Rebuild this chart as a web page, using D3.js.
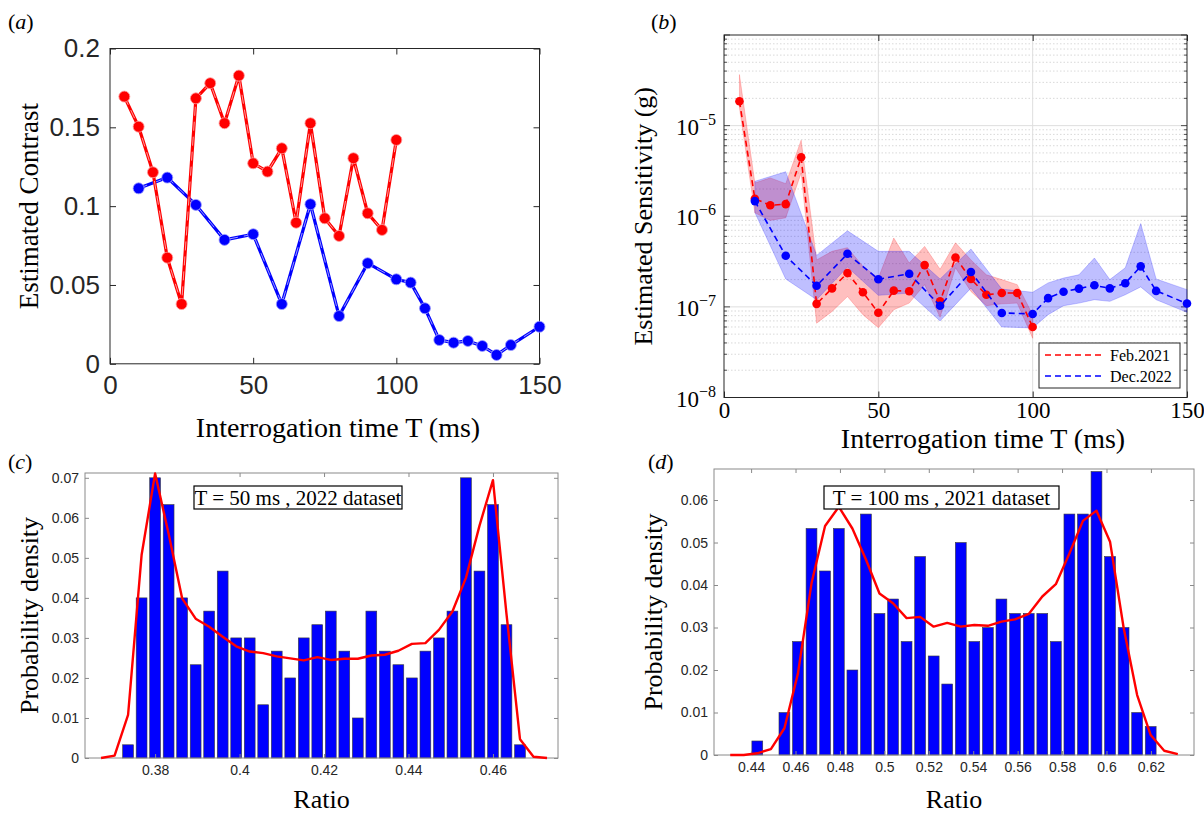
<!DOCTYPE html>
<html><head><meta charset="utf-8">
<script src="https://cdn.jsdelivr.net/npm/d3@7"></script>
<style>body{margin:0;background:#fff}</style>
</head><body>
<svg id="fig" width="1204" height="818"></svg>
<script>
// ---------- Panel (a) data ----------
const aXTicks = [0, 50, 100, 150];
const aYTicks = [0, 0.05, 0.1, 0.15, 0.2];
const aYLabels = ["0", "0.05", "0.1", "0.15", "0.2"];
const aRedT = [5,10,15,20,25,30,35,40,45,50,55,60,65,70,75,80,85,90,95,100];
const aRedC = [0.1695,0.1504,0.1215,0.0673,0.0379,0.1684,0.178,0.1526,0.1828,0.1272,0.1219,0.1367,0.0895,0.1526,0.0923,0.0811,0.1304,0.0955,0.0849,0.142];
const aBlueT = [10,20,30,40,50,60,70,80,90,100,105,110,115,120,125,130,135,140,150];
const aBlueC = [0.1113,0.1181,0.1008,0.0786,0.0822,0.0379,0.1012,0.0303,0.0638,0.0536,0.0515,0.0352,0.0151,0.0134,0.0145,0.0113,0.0056,0.0119,0.0235];

// ---------- Panel (b) data ----------
const bXTicks = [0, 50, 100, 150];
const bYDecades = [1e-8, 1e-7, 1e-6, 1e-5];
const bYExp = ["\u22128", "\u22127", "\u22126", "\u22125"];
const bRedT = [5,10,15,20,25,30,35,40,45,50,55,60,65,70,75,80,85,90,95,100];
const bRedS  = [1.86e-5,1.56e-6,1.32e-6,1.36e-6,4.47e-6,1.08e-7,1.6e-7,2.36e-7,1.45e-7,8.6e-8,1.51e-7,1.49e-7,2.89e-7,1.15e-7,3.5e-7,2.03e-7,1.36e-7,1.42e-7,1.42e-7,6.0e-8];
const bRedHi = [3.66e-5,2.33e-6,2.65e-6,2.29e-6,6.9e-6,3.3e-7,4.1e-7,4.5e-7,2.8e-7,2.08e-7,5.75e-7,3.05e-7,4.65e-7,2.6e-7,5.1e-7,3.3e-7,2.26e-7,2.0e-7,1.76e-7,8.2e-8];
const bRedLo = [1.58e-5,1.09e-6,9.0e-7,9.6e-7,3.0e-6,6.6e-8,8.9e-8,1.3e-7,8.2e-8,5.9e-8,9.3e-8,1.1e-7,1.76e-7,7.7e-8,2.7e-7,1.48e-7,1.03e-7,1.08e-7,1.1e-7,4.5e-8];
const bBlueT = [10,20,30,40,50,60,70,80,90,100,105,110,115,120,125,130,135,140,150];
const bBlueS  = [1.47e-6,3.66e-7,1.71e-7,3.85e-7,2.02e-7,2.32e-7,1.03e-7,2.43e-7,8.57e-8,8.36e-8,1.25e-7,1.47e-7,1.59e-7,1.73e-7,1.6e-7,1.82e-7,2.8e-7,1.5e-7,1.09e-7];
const bBlueHi = [2.43e-6,3.1e-6,3.7e-7,6.9e-7,4.1e-7,4.1e-7,2.03e-7,4.35e-7,1.57e-7,1.45e-7,1.84e-7,2.08e-7,2.26e-7,3.46e-7,2.0e-7,2.7e-7,8.3e-7,2.03e-7,1.55e-7];
const bBlueLo = [1.1e-6,2.03e-7,1.2e-7,2.75e-7,1.34e-7,1.42e-7,7.0e-8,1.61e-7,6.0e-8,5.85e-8,8.2e-8,1.03e-7,1.1e-7,1.2e-7,1.15e-7,1.36e-7,1.66e-7,1.2e-7,8.7e-8];
const bLegend = ["Feb.2021", "Dec.2022"];

// ---------- Panel (c) data ----------
const cXTicks = [0.38, 0.4, 0.42, 0.44, 0.46];
const cXLabels = ["0.38", "0.4", "0.42", "0.44", "0.46"];
const cYTicks = [0, 0.01, 0.02, 0.03, 0.04, 0.05, 0.06, 0.07];
const cYLabels = ["0", "0.01", "0.02", "0.03", "0.04", "0.05", "0.06", "0.07"];
const cBarX = [0.3736,0.3768,0.3800,0.3832,0.3864,0.3896,0.3928,0.3960,0.3992,0.4024,0.4056,0.4088,0.4120,0.4152,0.4184,0.4216,0.4248,0.4280,0.4312,0.4344,0.4376,0.4408,0.4440,0.4472,0.4504,0.4536,0.4568,0.4600,0.4632,0.4664];
const cBarP = [0.0033,0.0400,0.0700,0.0633,0.0400,0.0233,0.0367,0.0467,0.0300,0.0300,0.0133,0.0267,0.0200,0.0300,0.0333,0.0367,0.0267,0.0100,0.0367,0.0267,0.0233,0.0200,0.0267,0.0300,0.0367,0.0700,0.0467,0.0633,0.0333,0.0033];
const cFitX = [0.3672,0.3704,0.3736,0.3768,0.3800,0.3832,0.3864,0.3896,0.3928,0.3960,0.3992,0.4024,0.4056,0.4088,0.4120,0.4152,0.4184,0.4216,0.4248,0.4280,0.4312,0.4344,0.4376,0.4408,0.4440,0.4472,0.4504,0.4536,0.4568,0.4600,0.4632,0.4664,0.4696,0.4728];
const cFitP = [0,0.0006,0.0108,0.0507,0.0711,0.056,0.0399,0.0348,0.0328,0.0303,0.0279,0.0266,0.0262,0.0254,0.0249,0.0244,0.0252,0.0245,0.0248,0.0248,0.0256,0.0258,0.0268,0.0285,0.0287,0.032,0.0366,0.045,0.058,0.0694,0.036,0.0047,0.0003,0];
const cNote = "T = 50 ms , 2022 dataset";

// ---------- Panel (d) data ----------
const dXTicks = [0.44,0.46,0.48,0.5,0.52,0.54,0.56,0.58,0.6,0.62];
const dXLabels = ["0.44","0.46","0.48","0.5","0.52","0.54","0.56","0.58","0.6","0.62"];
const dYTicks = [0, 0.01, 0.02, 0.03, 0.04, 0.05, 0.06];
const dYLabels = ["0", "0.01", "0.02", "0.03", "0.04", "0.05", "0.06"];
const dBarX = [0.4428,0.4550,0.4611,0.4672,0.4733,0.4795,0.4856,0.4917,0.4978,0.5039,0.5100,0.5161,0.5222,0.5283,0.5344,0.5405,0.5466,0.5527,0.5588,0.5650,0.5711,0.5772,0.5833,0.5894,0.5955,0.6016,0.6077,0.6138,0.6199];
const dBarP = [0.0033,0.0100,0.0267,0.0533,0.0433,0.0533,0.0200,0.0567,0.0333,0.0367,0.0267,0.0467,0.0233,0.0167,0.0500,0.0267,0.0300,0.0367,0.0333,0.0333,0.0333,0.0267,0.0567,0.0567,0.0667,0.0467,0.0300,0.0100,0.0067];
const dFitX = [0.4306,0.4367,0.4428,0.4489,0.4550,0.4611,0.4672,0.4733,0.4795,0.4856,0.4917,0.4978,0.5039,0.5100,0.5161,0.5222,0.5283,0.5344,0.5405,0.5466,0.5527,0.5588,0.5650,0.5711,0.5772,0.5833,0.5894,0.5955,0.6016,0.6077,0.6138,0.6199,0.6260,0.6321];
const dFitP = [0,0,0.0004,0.0014,0.0063,0.0192,0.0404,0.0539,0.0584,0.0533,0.046,0.038,0.0357,0.0322,0.0325,0.0302,0.0311,0.0302,0.0306,0.0304,0.0314,0.0319,0.0332,0.0373,0.0402,0.0474,0.0551,0.0575,0.0502,0.030,0.0141,0.0047,0.001,0.0002];
const dNote = "T = 100 ms , 2021 dataset";

// ---------- common ----------
const SANS = "'Liberation Sans', Arial, sans-serif";
const SERIF = "'Liberation Serif', 'Times New Roman', serif";
const svg = d3.select("#fig");
svg.append("rect").attr("width", 1204).attr("height", 818).attr("fill", "#fff");

function styleAxis(sel, font, size, color, tickColor) {
  sel.select(".domain").remove();
  sel.attr("font-family", null).attr("font-size", null);
  sel.selectAll("text").attr("font-family", font).attr("font-size", size).attr("fill", color);
  sel.selectAll(".tick line").attr("stroke", tickColor || color);
}
function panelLabel(x, y, letter) {
  const t = svg.append("text").attr("x", x).attr("y", y).attr("font-family", SERIF).attr("font-size", 22).attr("fill", "#000");
  t.append("tspan").text("(");
  t.append("tspan").attr("font-style", "italic").text(letter);
  t.append("tspan").text(")");
}
function axisTitle(x, y, text, rotate, size) {
  svg.append("text").attr("x", 0).attr("y", 0)
    .attr("transform", `translate(${x},${y})` + (rotate ? " rotate(-90)" : ""))
    .attr("text-anchor", "middle").attr("font-family", SERIF).attr("font-size", size || 26)
    .attr("fill", "#000").text(text);
}
function boxAxes(g, P, x, y, xt, xl, yt, yl, opt) {
  const tl = opt.tick;
  g.append("g").attr("transform", `translate(0,${P.b})`)
    .call(d3.axisBottom(x).tickValues(xt).tickFormat((d, i) => xl ? xl[i] : "").tickSizeInner(-tl).tickSizeOuter(0).tickPadding(opt.xpad))
    .call(s => styleAxis(s, opt.font, opt.size, opt.text, opt.line));
  g.append("g").attr("transform", `translate(0,${P.t})`)
    .call(d3.axisTop(x).tickValues(xt).tickFormat("").tickSizeInner(-tl).tickSizeOuter(0))
    .call(s => styleAxis(s, opt.font, opt.size, opt.text, opt.line));
  g.append("g").attr("transform", `translate(${P.l},0)`)
    .call(d3.axisLeft(y).tickValues(yt).tickFormat((d, i) => yl ? yl[i] : "").tickSizeInner(-tl).tickSizeOuter(0).tickPadding(opt.ypad))
    .call(s => styleAxis(s, opt.font, opt.size, opt.text, opt.line));
  g.append("g").attr("transform", `translate(${P.r},0)`)
    .call(d3.axisRight(y).tickValues(yt).tickFormat("").tickSizeInner(-tl).tickSizeOuter(0))
    .call(s => styleAxis(s, opt.font, opt.size, opt.text, opt.line));
  g.append("rect").attr("x", P.l).attr("y", P.t).attr("width", P.r - P.l).attr("height", P.b - P.t)
    .attr("fill", "none").attr("stroke", opt.line).attr("stroke-width", 1);
}

// ================= Panel (a) =================
(function () {
  const P = {l: 110, r: 539.5, t: 48.5, b: 363.8};
  const x = d3.scaleLinear().domain([0, 150]).range([P.l, P.r]);
  const y = d3.scaleLinear().domain([0, 0.2]).range([P.b, P.t]);
  const g = svg.append("g");
  boxAxes(g, P, x, y, aXTicks, aXTicks.map(String), aYTicks, aYLabels,
    {tick: 6, xpad: 12, ypad: 10, font: SANS, size: 26, text: "#262626", line: "#262626"});
  const line = d3.line().x(d => x(d[0])).y(d => y(d[1]));
  const series = [
    {pts: d3.zip(aBlueT, aBlueC), c: "#0000ff", inner: "#9a9aff"},
    {pts: d3.zip(aRedT, aRedC), c: "#ff0000", inner: "#ff9c9c"}
  ];
  series.forEach(s => {
    g.append("path").attr("d", line(s.pts)).attr("fill", "none").attr("stroke", s.c).attr("stroke-width", 3.2).attr("stroke-linejoin", "round");
    g.append("path").attr("d", line(s.pts)).attr("fill", "none").attr("stroke", s.inner).attr("stroke-width", 1).attr("stroke-dasharray", "9,6");
    g.selectAll(null).data(s.pts).enter().append("circle")
      .attr("cx", d => x(d[0])).attr("cy", d => y(d[1])).attr("r", 5.5)
      .attr("fill", s.c).attr("stroke", s.inner).attr("stroke-width", 0.8);
  });
  panelLabel(8, 29, "a");
  axisTitle(38, (P.t + P.b) / 2, "Estimated Contrast", true, 27);
  axisTitle(338, 437, "Interrogation time T (ms)", false, 28);
})();

// ================= Panel (b) =================
(function () {
  const P = {l: 724, r: 1187, t: 35, b: 397.5};
  const x = d3.scaleLinear().domain([0, 150]).range([P.l, P.r]);
  const y = d3.scaleLog().domain([1e-8, 1e-4]).range([P.b, P.t]);
  const g = svg.append("g");
  const allTicks = y.ticks();
  const isDecade = v => Math.abs(Math.log10(v) - Math.round(Math.log10(v))) < 1e-6;
  // grid
  g.selectAll(null).data(allTicks.filter(v => !isDecade(v))).enter().append("line")
    .attr("x1", P.l).attr("x2", P.r).attr("y1", d => y(d)).attr("y2", d => y(d))
    .attr("stroke", "#cfcfcf").attr("stroke-width", 0.8).attr("stroke-dasharray", "1.5,2");
  g.selectAll(null).data(allTicks.filter(v => isDecade(v) && v > 1e-8 && v < 1e-4)).enter().append("line")
    .attr("x1", P.l).attr("x2", P.r).attr("y1", d => y(d)).attr("y2", d => y(d))
    .attr("stroke", "#dedede").attr("stroke-width", 1);
  g.selectAll(null).data(bXTicks.slice(1, -1)).enter().append("line")
    .attr("x1", d => x(d)).attr("x2", d => x(d)).attr("y1", P.t).attr("y2", P.b)
    .attr("stroke", "#dedede").attr("stroke-width", 1);
  // axes ticks
  const line = "#262626";
  g.append("g").attr("transform", `translate(0,${P.b})`)
    .call(d3.axisBottom(x).tickValues(bXTicks).tickSizeInner(-6).tickSizeOuter(0).tickPadding(4))
    .call(s => styleAxis(s, SERIF, 23, "#000", line));
  g.append("g").attr("transform", `translate(0,${P.t})`)
    .call(d3.axisTop(x).tickValues(bXTicks).tickFormat("").tickSizeInner(-6).tickSizeOuter(0))
    .call(s => styleAxis(s, SERIF, 23, "#000", line));
  [[P.l, 1], [P.r, -1]].forEach(([px, dir]) => {
    g.selectAll(null).data(allTicks).enter().append("line")
      .attr("x1", px).attr("x2", d => px + dir * (isDecade(d) ? 6 : 3))
      .attr("y1", d => y(d)).attr("y2", d => y(d)).attr("stroke", line).attr("stroke-width", 0.8);
  });
  g.append("rect").attr("x", P.l).attr("y", P.t).attr("width", P.r - P.l).attr("height", P.b - P.t)
    .attr("fill", "none").attr("stroke", line).attr("stroke-width", 1);
  // y labels with superscripts
  bYDecades.forEach((v, i) => {
    const t = g.append("text").attr("x", P.l - 8).attr("y", y(v) + 9).attr("text-anchor", "end")
      .attr("font-family", SERIF).attr("font-size", 23).attr("fill", "#000");
    t.append("tspan").text("10");
    t.append("tspan").attr("dy", -10).attr("font-size", 16).text(bYExp[i]);
  });
  // bands
  const area = d3.area().x(d => x(d.t)).y0(d => y(d.lo)).y1(d => y(d.hi));
  const red = bRedT.map((t, i) => ({t, s: bRedS[i], lo: bRedLo[i], hi: bRedHi[i]}));
  const blue = bBlueT.map((t, i) => ({t, s: bBlueS[i], lo: bBlueLo[i], hi: bBlueHi[i]}));
  g.append("path").attr("d", area(red)).attr("fill", "#ff0000").attr("fill-opacity", 0.25)
    .attr("stroke", "#ff0000").attr("stroke-opacity", 0.2);
  g.append("path").attr("d", area(blue)).attr("fill", "#0000ff").attr("fill-opacity", 0.25)
    .attr("stroke", "#0000ff").attr("stroke-opacity", 0.2);
  const ln = d3.line().x(d => x(d.t)).y(d => y(d.s));
  [[red, "#ff0000"], [blue, "#0000ff"]].forEach(([data, c]) => {
    g.append("path").attr("d", ln(data)).attr("fill", "none").attr("stroke", c)
      .attr("stroke-width", 1.6).attr("stroke-dasharray", "6,4");
    g.selectAll(null).data(data).enter().append("circle")
      .attr("cx", d => x(d.t)).attr("cy", d => y(d.s)).attr("r", 4.3).attr("fill", c);
  });
  // legend
  const L = {x: 1039, y: 343, w: 141, h: 45};
  g.append("rect").attr("x", L.x).attr("y", L.y).attr("width", L.w).attr("height", L.h)
    .attr("fill", "#fff").attr("stroke", line).attr("stroke-width", 1);
  [["#ff0000", bLegend[0], 355], ["#0000ff", bLegend[1], 376]].forEach(([c, txt, yy]) => {
    g.append("line").attr("x1", L.x + 6).attr("x2", L.x + 63).attr("y1", yy).attr("y2", yy)
      .attr("stroke", c).attr("stroke-width", 1.6).attr("stroke-dasharray", "6,4");
    g.append("text").attr("x", L.x + 71).attr("y", yy + 5.5).attr("font-family", SERIF)
      .attr("font-size", 16).attr("fill", "#000").text(txt);
  });
  panelLabel(651, 29, "b");
  axisTitle(652, (P.t + P.b) / 2, "Estimated Sensitivity (g)", true, 26);
  axisTitle(983, 448, "Interrogation time T (ms)", false, 28);
})();

// ================= histogram panels =================
function histPanel(P, xDom, yDom, xt, xl, yt, yl, barX, barP, fitX, fitP, note, noteBox, lab, labX, ylabX) {
  const x = d3.scaleLinear().domain(xDom).range([P.l, P.r]);
  const y = d3.scaleLinear().domain(yDom).range([P.b, P.t]);
  const g = svg.append("g");
  const binW = (x(fitX[1]) - x(fitX[0])) * 0.8;
  g.selectAll(null).data(d3.zip(barX, barP)).enter().append("rect")
    .attr("x", d => x(d[0]) - binW / 2).attr("y", d => y(d[1]))
    .attr("width", binW).attr("height", d => y(0) - y(d[1]))
    .attr("fill", "#0000ff").attr("stroke", "#3a3a3a").attr("stroke-width", 0.6);
  boxAxes(g, P, x, y, xt, xl, yt, yl,
    {tick: 4, xpad: 7, ypad: 6, font: SANS, size: 14, text: "#262626", line: "#8a8a8a"});
  g.append("path").attr("d", d3.line().x(d => x(d[0])).y(d => y(d[1]))(d3.zip(fitX, fitP)))
    .attr("fill", "none").attr("stroke", "#ff0000").attr("stroke-width", 2.4).attr("stroke-linejoin", "round");
  g.append("rect").attr("x", noteBox.x).attr("y", noteBox.y).attr("width", noteBox.w).attr("height", noteBox.h)
    .attr("fill", "#fff").attr("stroke", "#000").attr("stroke-width", 1.2);
  g.append("text").attr("x", noteBox.x + noteBox.w / 2).attr("y", noteBox.y + noteBox.h / 2 + 7)
    .attr("text-anchor", "middle").attr("font-family", SERIF).attr("font-size", 21).attr("fill", "#000").text(note);
  panelLabel(labX, 469, lab);
  axisTitle(ylabX, (P.t + P.b) / 2, "Probability density", true, 26);
  axisTitle((P.l + P.r) / 2, 808, "Ratio", false, 26);
}
histPanel({l: 85, r: 558, t: 473, b: 758}, [0.3634, 0.4754], [0, 0.0712],
  cXTicks, cXLabels, cYTicks, cYLabels, cBarX, cBarP, cFitX, cFitP, cNote,
  {x: 194, y: 486, w: 208, h: 23}, "c", 8, 38);
histPanel({l: 714, r: 1194, t: 469, b: 755}, [0.4233, 0.6394], [0, 0.0673],
  dXTicks, dXLabels, dYTicks, dYLabels, dBarX, dBarP, dFitX, dFitP, dNote,
  {x: 824, y: 486, w: 235, h: 23}, "d", 648, 662);
</script>
</body></html>
